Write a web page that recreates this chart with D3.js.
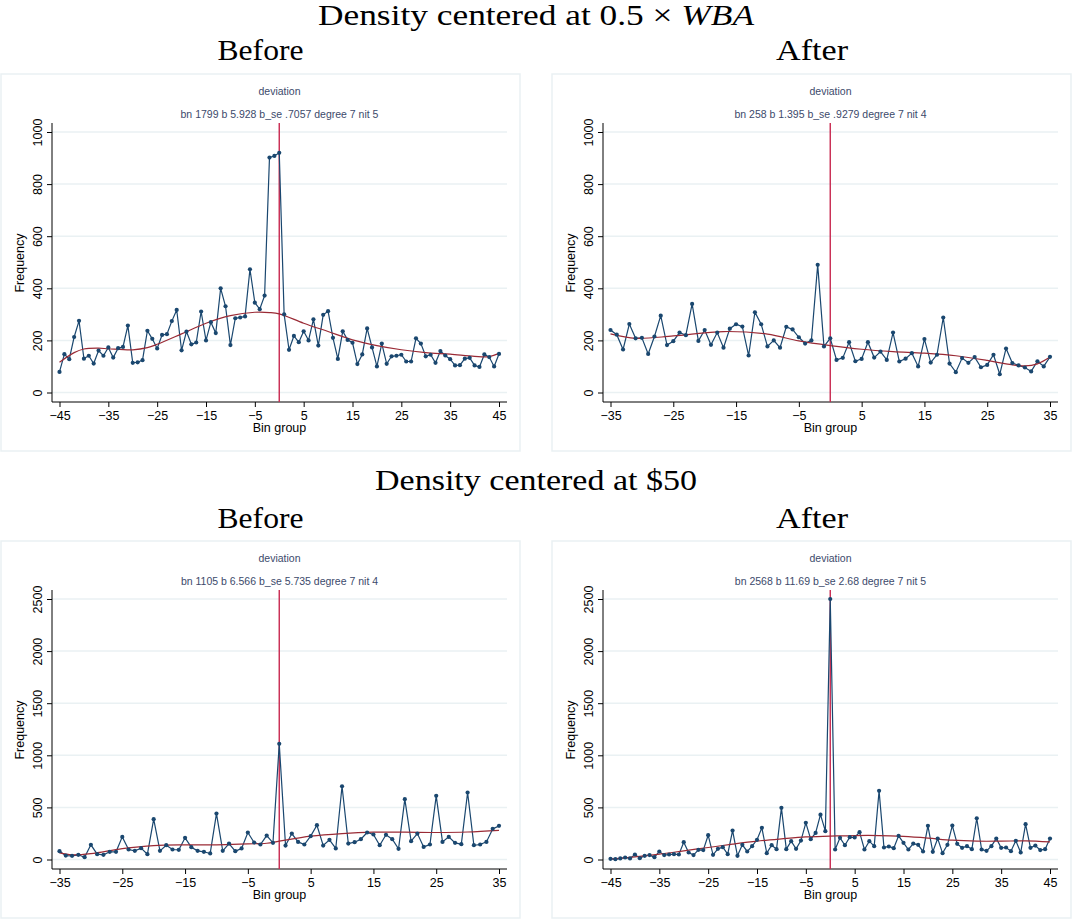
<!DOCTYPE html>
<html>
<head>
<meta charset="utf-8">
<script src="https://cdn.jsdelivr.net/npm/d3@7"></script>
<style>
  body { margin: 0; background: #fff; }
  .tick text { font-family: "Liberation Sans", Arial, sans-serif; font-size: 12.5px; fill: #000; }
</style>
</head>
<body>
<svg width="1073" height="920"></svg>
<script>
// ---- data ----
// bins
var binsWide = d3.range(-45, 46)
var binsNarrow = d3.range(-35, 36)

// x tick labels
var ticksWide = [-45, -35, -25, -15, -5, 5, 15, 25, 35, 45]
var ticksNarrow = [-35, -25, -15, -5, 5, 15, 25, 35]
// y tick labels
var ticksWba = [0, 200, 400, 600, 800, 1000]
var ticks50 = [0, 500, 1000, 1500, 2000, 2500]

// Density centered at 0.5 x WBA, before
var wbaBefore = [79,147,128,213,275,130,141,111,161,141,
  173,134,170,175,257,114,116,124,237,206,
  169,221,224,274,317,162,234,185,192,311,
  200,270,228,400,331,182,285,288,292,473,
  345,320,372,902,908,
  920,
  300,164,217,193,235,200,281,180,298,312,
  210,129,235,202,191,109,146,246,173,100,
  188,110,139,141,145,119,119,208,188,139,
  145,114,159,142,128,104,105,130,133,104,
  98,146,136,100,148]
var wbaBeforeFitX = [-45,-42,-40,-37,-35,-30,-27,-25,-20,-15,-10,-5,-2,0,5,10,15,20,25,30,35,40,43,45]
var wbaBeforeFit = [116,153,167,170,168,164,172,185,225,266,295,308,307,302,266,234,202,180,164,153,147,139,138,150]

// Density centered at 0.5 x WBA, after
var wbaAfter = [240,222,165,263,208,210,148,215,295,182,
  197,230,220,340,198,240,183,230,172,245,
  262,253,142,308,262,177,200,172,252,242,
  212,188,200,490,177,
  208,
  125,133,193,120,129,193,134,157,125,230,
  119,130,151,100,205,115,145,288,111,78,
  132,114,136,97,106,145,70,169,113,104,
  96,81,120,100,137]
var wbaAfterFitX = [-35,-31,-25,-17,-10,-5,0,5,10,15,20,25,28,31,33,35]
var wbaAfterFit = [225,208,217,234,224,198,180,166,157,151,141,123,110,102,110,136]

// Density centered at $50, before
var d50Before = [80,38,35,45,22,141,51,45,74,74,
  217,96,83,109,51,387,83,137,96,93,
  208,118,83,74,58,441,83,153,80,106,
  259,163,144,230,160,
  1110,
  134,249,169,144,224,329,134,189,106,703,
  153,166,195,259,240,137,237,195,102,579,
  176,249,121,144,611,169,217,160,147,643,
  137,144,169,294,323]
var d50BeforeFitX = [-35,-33,-30,-25,-20,-15,-10,-5,-2,0,5,10,15,20,25,30,35]
var d50BeforeFit = [64,45,56,104,134,141,141,150,156,176,224,249,262,262,259,264,280]

// Density centered at $50, after
var d50After = [6,3,10,19,10,48,13,35,42,22,
  77,42,48,51,48,166,67,42,93,90,
  233,45,102,118,51,278,35,141,77,128,
  189,304,61,137,99,496,99,176,102,182,
  352,195,255,430,272,
  2500,
  96,208,137,214,211,262,96,176,128,659,
  115,125,109,227,160,96,153,141,77,323,
  74,201,61,141,326,150,112,128,99,396,
  96,83,128,201,112,115,80,179,67,339,
  112,134,90,99,201]
var d50AfterFitX = [-45,-40,-35,-30,-25,-20,-15,-10,-5,0,5,10,15,20,25,30,35,40,45]
var d50AfterFit = [3,26,51,83,115,147,176,198,217,224,230,230,221,205,185,176,176,179,169]

var notes = [
  "bn 1799 b 5.928 b_se .7057 degree 7 nit 5",
  "bn 258 b 1.395 b_se .9279 degree 7 nit 4",
  "bn 1105 b 6.566 b_se 5.735 degree 7 nit 4",
  "bn 2568 b 11.69 b_se 2.68 degree 7 nit 5"
]

// ---- layout ----
var svg = d3.select("svg")
var serif = "'Liberation Serif', 'DejaVu Serif', serif"
var sans = "'Liberation Sans', Arial, sans-serif"
var navy = "#1a476f"
var fitColor = "#9a2a35"
var gridColor = "#eaf1f3"

var panels = [
  {x: 1, y: 74, bins: binsWide, vals: wbaBefore, fx: wbaBeforeFitX, fy: wbaBeforeFit, xt: ticksWide, yt: ticksWba, note: notes[0]},
  {x: 552, y: 74, bins: binsNarrow, vals: wbaAfter, fx: wbaAfterFitX, fy: wbaAfterFit, xt: ticksNarrow, yt: ticksWba, note: notes[1]},
  {x: 1, y: 541, bins: binsNarrow, vals: d50Before, fx: d50BeforeFitX, fy: d50BeforeFit, xt: ticksNarrow, yt: ticks50, note: notes[2]},
  {x: 552, y: 541, bins: binsWide, vals: d50After, fx: d50AfterFitX, fy: d50AfterFit, xt: ticksWide, yt: ticks50, note: notes[3]}
]

//headers (Computer Modern is wider than Times, so stretch to the reference widths)
function header(x, y, len){
  return svg.append("text")
    .attr("x", x).attr("y", y)
    .attr("textLength", len)
    .attr("lengthAdjust", "spacingAndGlyphs")
    .style("text-anchor", "middle")
    .style("font-family", serif).style("font-size", "29px")
}
var t1 = header(536, 25, 436)
t1.append("tspan").text("Density centered at 0.5 × ")
t1.append("tspan").style("font-style", "italic").text("WBA")

header(536, 490, 322).text("Density centered at $50")

var subs = [[260.5, 60, "Before", 86], [812, 60, "After", 72], [260.5, 528, "Before", 86], [812, 528, "After", 72]]
subs.forEach(s => header(s[0], s[1], s[3]).text(s[2]))

panels.forEach(drawPanel)

function drawPanel(p){
  var g = svg.append("g")
    .attr("transform", `translate(${p.x}, ${p.y})`)

  //outer frame
  g.append("rect")
    .attr("x", 0).attr("y", 0)
    .attr("width", 519).attr("height", 377)
    .attr("fill", "none")
    .attr("stroke", gridColor)
    .attr("stroke-width", 1.5)

  var xScale = d3.scaleLinear()
    .domain(d3.extent(p.bins))
    .range([58.5, 498])
  var yScale = d3.scaleLinear()
    .domain([0, d3.max(p.yt)])
    .range([318.5, 58])

  //gridlines
  g.selectAll(".grid")
    .data(p.yt)
    .enter()
    .append("line")
      .attr("x1", 51).attr("x2", 506)
      .attr("y1", d => yScale(d)).attr("y2", d => yScale(d))
      .attr("stroke", gridColor)
      .attr("stroke-width", 1.5)

  //titles
  g.append("text")
    .attr("x", 278.5).attr("y", 21)
    .style("text-anchor", "middle")
    .style("font-family", sans).style("font-size", "10.5px")
    .attr("fill", "#3c4a6b")
    .text("deviation")
  g.append("text")
    .attr("x", 278.5).attr("y", 44)
    .style("text-anchor", "middle")
    .style("font-family", sans).style("font-size", "10.5px")
    .attr("fill", "#3c4a6b")
    .text(p.note)

  //axes
  var yAxis = g.append("g")
    .attr("transform", "translate(51, 0)")
    .call(d3.axisLeft(yScale).tickValues(p.yt).tickFormat(d3.format("d")).tickSize(5).tickSizeOuter(0))
  yAxis.select(".domain").remove()
  yAxis.selectAll("text")
    .attr("x", 0)
    .attr("dy", 0)
    .attr("transform", "translate(-10, 0) rotate(-90)")
    .style("text-anchor", "middle")

  var xAxis = g.append("g")
    .attr("transform", "translate(0, 328)")
    .call(d3.axisBottom(xScale).tickValues(p.xt).tickSize(5).tickPadding(4).tickSizeOuter(0))
  xAxis.select(".domain").remove()

  g.selectAll(".tick line").attr("stroke", "#000")

  g.append("line")
    .attr("x1", 51).attr("x2", 51).attr("y1", 49).attr("y2", 328)
    .attr("stroke", "#000")
  g.append("line")
    .attr("x1", 51).attr("x2", 506).attr("y1", 328).attr("y2", 328)
    .attr("stroke", "#000")

  g.append("text")
    .attr("transform", "translate(23, 189) rotate(-90)")
    .style("text-anchor", "middle")
    .style("font-family", sans).style("font-size", "12.5px")
    .text("Frequency")
  g.append("text")
    .attr("x", 278.5).attr("y", 358)
    .style("text-anchor", "middle")
    .style("font-family", sans).style("font-size", "12.5px")
    .text("Bin group")

  //vertical line at zero
  g.append("line")
    .attr("x1", xScale(0)).attr("x2", xScale(0))
    .attr("y1", 49).attr("y2", 328)
    .attr("stroke", "#c8284f")
    .attr("stroke-width", 1.4)

  //frequency series
  var pts = p.bins.map((b, i) => ({bin: b, v: p.vals[i]}))
  var line = d3.line()
    .x(d => xScale(d.bin))
    .y(d => yScale(d.v))

  g.append("path")
    .datum(pts)
    .attr("d", line)
    .attr("fill", "none")
    .attr("stroke", navy)
    .attr("stroke-width", 1.2)

  //polynomial fit
  var fit = p.fx.map((b, i) => ({bin: b, v: p.fy[i]}))
  g.append("path")
    .datum(fit)
    .attr("d", line.curve(d3.curveCatmullRom))
    .attr("fill", "none")
    .attr("stroke", fitColor)
    .attr("stroke-width", 1.2)

  g.selectAll(".dot")
    .data(pts)
    .enter()
    .append("circle")
      .attr("cx", d => xScale(d.bin))
      .attr("cy", d => yScale(d.v))
      .attr("r", 2.1)
      .attr("fill", navy)
}
</script>
</body>
</html>
